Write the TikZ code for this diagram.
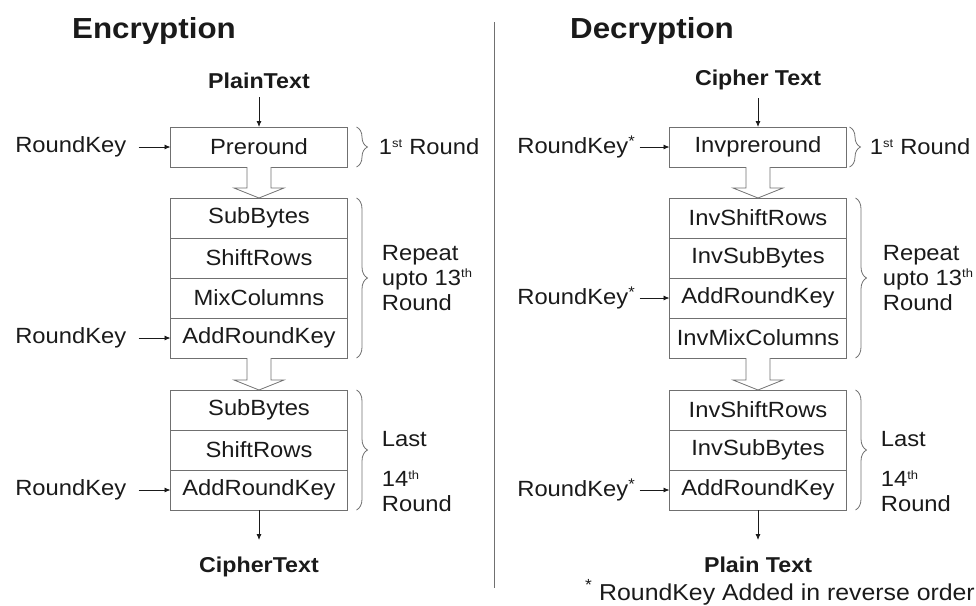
\documentclass[tikz,border=0pt]{standalone}
\usepackage{fontspec}
\setmainfont{Liberation Sans}[FakeStretch=1.08]
\usepackage{tikz}
\usetikzlibrary{arrows.meta,positioning,decorations.pathreplacing}
\definecolor{boxgray}{HTML}{707070}
\definecolor{inkgray}{HTML}{1A1A1A}
\newcommand{\rsup}[1]{\textsuperscript{\fontsize{12}{12}\selectfont #1}}

\begin{document}
\begin{tikzpicture}[x=1pt,y=-1pt,font=\fontsize{22}{25}\selectfont,
  op/.style={draw=boxgray,line width=0.8pt,minimum width=177pt,minimum height=40pt,inner sep=0pt,outer sep=0pt,text=inkgray},
  io/.style={font=\fontsize{21.5}{25}\selectfont\bfseries,inner sep=8pt,text=inkgray},
  ttl/.style={font=\fontsize{29}{34}\selectfont\bfseries,anchor=base west,inner sep=0pt,text=inkgray},
  key/.style={inner ysep=0pt,inner xsep=12pt,text=inkgray},
  ar/.style={-{Latex[length=6pt,width=5pt]},line width=0.8pt,draw=inkgray},
  fat/.style={draw=boxgray,line width=0.8pt,fill=white},
  br/.style={draw=boxgray,line width=0.8pt,decorate,decoration={brace,amplitude=11pt}},
  rnd/.style={align=left,inner sep=0pt,anchor=west,text=inkgray}]
\useasboundingbox (0,0) rectangle (976,605);
\draw[boxgray,line width=0.8pt] (494,22) -- (494,588);

% encryption
\node[ttl] (enc) at (72,38) {Encryption};
\node[op] (pre) at (259,147) {Preround};
\node[op,below=31pt of pre] (sb1) {SubBytes};
\node[op,below=0pt of sb1] (sr1) {ShiftRows};
\node[op,below=0pt of sr1] (mc1) {MixColumns};
\node[op,below=0pt of mc1] (ark1) {AddRoundKey};
\node[op,below=32pt of ark1] (sb2) {SubBytes};
\node[op,below=0pt of sb2] (sr2) {ShiftRows};
\node[op,below=0pt of sr2] (ark2) {AddRoundKey};
\node[io,above=30pt of pre] (pt) {PlainText};
\node[io,below=39pt of ark2] (ct) {CipherText};
\node[key,left=32pt of pre] (k0) {RoundKey};
\node[key,left=32pt of ark1] (k1) {RoundKey};
\node[key,left=32pt of ark2] (k2) {RoundKey};
\draw[ar] (pt)--(pre); \draw[ar,shorten >=9pt] (ark2)--(ct);
\draw[ar] (k0)--(pre); \draw[ar] (k1)--(ark1); \draw[ar] (k2)--(ark2);
\draw[br] ([xshift=9pt]pre.north east) -- ([xshift=9pt]pre.south east) node[rnd,midway,right=22pt] {1\rsup{st} Round};
\draw[br] ([xshift=9pt]sb1.north east) -- ([xshift=9pt]ark1.south east) node[rnd,midway,right=25pt] {Repeat\\upto 13\rsup{th}\\Round};
\draw[br] ([xshift=9pt]sb2.north east) -- ([xshift=9pt]ark2.south east) node[rnd,midway,right=25pt,yshift=-22pt] {Last\\[15pt]14\rsup{th}\\Round};

% decryption
\node[ttl] (dec) at (570,38) {Decryption};
\node[op] (ipre) at (758,147) {Invpreround};
\node[op,below=31pt of ipre] (isr1) {InvShiftRows};
\node[op,below=0pt of isr1] (isb1) {InvSubBytes};
\node[op,below=0pt of isb1] (dark1) {AddRoundKey};
\node[op,below=0pt of dark1] (imc1) {InvMixColumns};
\node[op,below=32pt of imc1] (isr2) {InvShiftRows};
\node[op,below=0pt of isr2] (isb2) {InvSubBytes};
\node[op,below=0pt of isb2] (dark2) {AddRoundKey};
\node[io,above=29pt of ipre] (dct) {Cipher Text};
\node[io,below=39pt of dark2] (dpt) {Plain Text};
\node[key,inner xsep=4pt,left=30pt of ipre] (dk0) {RoundKey\textsuperscript{*}};
\node[key,inner xsep=4pt,left=30pt of dark1] (dk1) {RoundKey\textsuperscript{*}};
\node[key,inner xsep=4pt,left=30pt of dark2] (dk2) {RoundKey\textsuperscript{*}};
\node[anchor=base east,inner sep=0pt,text=inkgray,font=\fontsize{23}{27}\selectfont] (fn) at (975,600) {\textsuperscript{*} RoundKey Added in reverse order};
\draw[ar] (dct)--(ipre); \draw[ar,shorten >=9pt] (dark2)--(dpt);
\draw[ar] (dk0)--(ipre); \draw[ar] (dk1)--(dark1); \draw[ar] (dk2)--(dark2);
\draw[br] ([xshift=3pt]ipre.north east) -- ([xshift=3pt]ipre.south east) node[rnd,midway,right=20pt] {1\rsup{st} Round};
\draw[br] ([xshift=9pt]isr1.north east) -- ([xshift=9pt]imc1.south east) node[rnd,midway,right=27pt] {Repeat\\upto 13\rsup{th}\\Round};
\draw[br] ([xshift=9pt]isr2.north east) -- ([xshift=9pt]dark2.south east) node[rnd,midway,right=25pt,yshift=-22pt] {Last\\[15pt]14\rsup{th}\\Round};

\foreach \a/\b in {pre/sb1,ark1/sb2,ipre/isr1,imc1/isr2}
  \draw[fat] ([xshift=-12pt]\a.south) -- ([xshift=-12pt,yshift=10pt]\b.north) -- ([xshift=-25pt,yshift=10pt]\b.north) -- (\b.north)
    -- ([xshift=25pt,yshift=10pt]\b.north) -- ([xshift=12pt,yshift=10pt]\b.north) -- ([xshift=12pt]\a.south);
\end{tikzpicture}
\end{document}
